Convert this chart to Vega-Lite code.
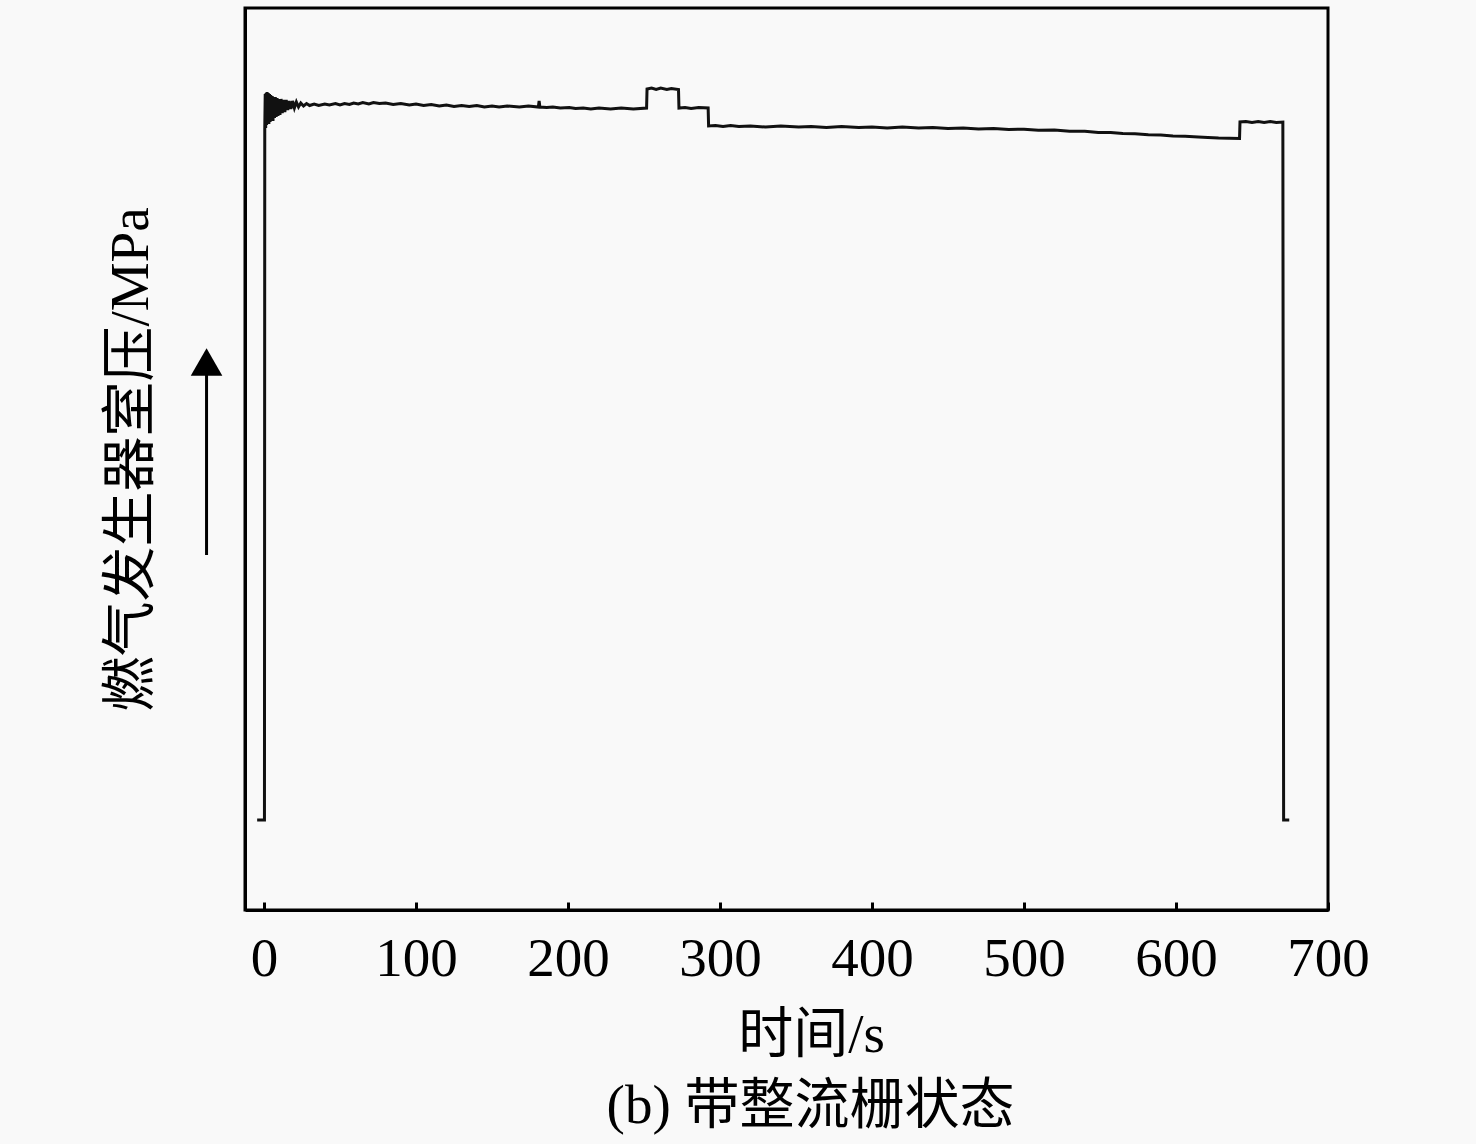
{
  "$schema": "https://vega.github.io/schema/vega-lite/v6.json",
  "width": 1083,
  "height": 902,
  "autosize": {"type": "none"},
  "padding": {"left": 245, "top": 8, "right": 148, "bottom": 234},
  "background": "#f9f9f9",
  "config": {
    "view": {"stroke": "#000000", "strokeWidth": 3},
    "font": "Liberation Serif, Noto Sans CJK SC"
  },
  "title": {
    "text": "(b) 带整流栅状态",
    "orient": "bottom",
    "anchor": "middle",
    "font": "Liberation Serif, Noto Sans CJK SC",
    "fontSize": 55,
    "fontWeight": "normal",
    "color": "#000000",
    "offset": 18,
    "dx": 24
  },
  "layer": [
    {
      "data": {
        "values": [
          {"t": -4.5, "p": 0.0},
          {"t": 0.3, "p": 0.0},
          {"t": 0.5, "p": 6.9},
          {"t": 0.8, "p": 7.26},
          {"t": 1.1, "p": 6.92},
          {"t": 1.4, "p": 7.27},
          {"t": 1.7, "p": 6.95},
          {"t": 2.0, "p": 7.28},
          {"t": 2.4, "p": 6.97},
          {"t": 2.8, "p": 7.27},
          {"t": 3.2, "p": 6.96},
          {"t": 3.6, "p": 7.26},
          {"t": 4.0, "p": 6.98},
          {"t": 4.4, "p": 7.25},
          {"t": 4.9, "p": 7.0},
          {"t": 5.4, "p": 7.24},
          {"t": 5.9, "p": 6.99},
          {"t": 6.4, "p": 7.23},
          {"t": 6.9, "p": 7.02},
          {"t": 7.4, "p": 7.23},
          {"t": 8.0, "p": 7.03},
          {"t": 8.6, "p": 7.22},
          {"t": 9.2, "p": 7.04},
          {"t": 9.8, "p": 7.21},
          {"t": 10.5, "p": 7.05},
          {"t": 11.2, "p": 7.21},
          {"t": 12.0, "p": 7.07},
          {"t": 12.8, "p": 7.2},
          {"t": 13.7, "p": 7.08},
          {"t": 14.6, "p": 7.2},
          {"t": 15.6, "p": 7.1},
          {"t": 16.6, "p": 7.19},
          {"t": 17.7, "p": 7.11},
          {"t": 18.8, "p": 7.19},
          {"t": 20.0, "p": 7.12},
          {"t": 21.3, "p": 7.18},
          {"t": 22.7, "p": 7.13},
          {"t": 24.2, "p": 7.17},
          {"t": 26.0, "p": 7.14},
          {"t": 28.0, "p": 7.165},
          {"t": 30.0, "p": 7.145},
          {"t": 33.0, "p": 7.16},
          {"t": 36.0, "p": 7.145},
          {"t": 40.0, "p": 7.16},
          {"t": 43.0, "p": 7.15},
          {"t": 47.0, "p": 7.165},
          {"t": 50.0, "p": 7.15},
          {"t": 53.0, "p": 7.165},
          {"t": 56.2, "p": 7.155},
          {"t": 59.0, "p": 7.17},
          {"t": 62.0, "p": 7.16},
          {"t": 65.0, "p": 7.175},
          {"t": 69.0, "p": 7.16},
          {"t": 72.0, "p": 7.175},
          {"t": 75.9, "p": 7.165},
          {"t": 80.0, "p": 7.17},
          {"t": 85.0, "p": 7.155},
          {"t": 90.0, "p": 7.165},
          {"t": 95.6, "p": 7.15},
          {"t": 100.0, "p": 7.16},
          {"t": 105.0, "p": 7.145},
          {"t": 110.0, "p": 7.155},
          {"t": 115.3, "p": 7.14},
          {"t": 120.0, "p": 7.15},
          {"t": 125.0, "p": 7.135},
          {"t": 130.0, "p": 7.145},
          {"t": 135.0, "p": 7.135},
          {"t": 140.0, "p": 7.145},
          {"t": 145.0, "p": 7.13},
          {"t": 150.0, "p": 7.14},
          {"t": 154.7, "p": 7.13},
          {"t": 160.0, "p": 7.14},
          {"t": 168.0, "p": 7.13},
          {"t": 174.0, "p": 7.14},
          {"t": 180.5, "p": 7.13},
          {"t": 181.0, "p": 7.19},
          {"t": 181.5, "p": 7.13},
          {"t": 186.0, "p": 7.125},
          {"t": 190.0, "p": 7.13},
          {"t": 195.0, "p": 7.12},
          {"t": 200.8, "p": 7.125},
          {"t": 205.0, "p": 7.115},
          {"t": 210.0, "p": 7.12},
          {"t": 215.0, "p": 7.11},
          {"t": 220.4, "p": 7.12},
          {"t": 228.0, "p": 7.11},
          {"t": 235.0, "p": 7.12},
          {"t": 243.0, "p": 7.11},
          {"t": 251.7, "p": 7.12},
          {"t": 252.0, "p": 7.31},
          {"t": 255.0, "p": 7.32},
          {"t": 258.0, "p": 7.305},
          {"t": 261.0, "p": 7.32},
          {"t": 265.0, "p": 7.305},
          {"t": 268.0, "p": 7.315},
          {"t": 272.7, "p": 7.305},
          {"t": 273.0, "p": 7.12},
          {"t": 277.0, "p": 7.125},
          {"t": 281.0, "p": 7.115},
          {"t": 286.0, "p": 7.125},
          {"t": 292.2, "p": 7.12},
          {"t": 292.5, "p": 6.94},
          {"t": 297.0, "p": 6.945},
          {"t": 302.0, "p": 6.935},
          {"t": 307.0, "p": 6.945},
          {"t": 312.4, "p": 6.935},
          {"t": 320.0, "p": 6.94},
          {"t": 330.0, "p": 6.93},
          {"t": 340.0, "p": 6.94},
          {"t": 351.8, "p": 6.93},
          {"t": 360.0, "p": 6.935},
          {"t": 370.0, "p": 6.925},
          {"t": 380.0, "p": 6.935},
          {"t": 391.3, "p": 6.925},
          {"t": 400.0, "p": 6.93},
          {"t": 410.0, "p": 6.92},
          {"t": 420.0, "p": 6.93},
          {"t": 430.7, "p": 6.92},
          {"t": 440.0, "p": 6.925},
          {"t": 450.0, "p": 6.915},
          {"t": 460.0, "p": 6.92},
          {"t": 470.1, "p": 6.91},
          {"t": 480.0, "p": 6.915},
          {"t": 490.0, "p": 6.905},
          {"t": 500.0, "p": 6.908},
          {"t": 509.5, "p": 6.898},
          {"t": 520.0, "p": 6.9},
          {"t": 530.0, "p": 6.888},
          {"t": 540.0, "p": 6.888},
          {"t": 548.9, "p": 6.876},
          {"t": 557.0, "p": 6.874},
          {"t": 565.0, "p": 6.864},
          {"t": 573.0, "p": 6.862},
          {"t": 581.8, "p": 6.852},
          {"t": 590.0, "p": 6.85},
          {"t": 598.0, "p": 6.84},
          {"t": 606.0, "p": 6.838},
          {"t": 614.6, "p": 6.83},
          {"t": 621.0, "p": 6.826},
          {"t": 628.0, "p": 6.82},
          {"t": 635.0, "p": 6.818},
          {"t": 641.8, "p": 6.815},
          {"t": 642.1, "p": 6.98},
          {"t": 646.0, "p": 6.985},
          {"t": 650.0, "p": 6.975},
          {"t": 654.1, "p": 6.985},
          {"t": 658.0, "p": 6.975},
          {"t": 662.0, "p": 6.985},
          {"t": 666.0, "p": 6.975},
          {"t": 670.3, "p": 6.98},
          {"t": 670.8, "p": 0.0},
          {"t": 674.5, "p": 0.0}
        ]
      },
      "mark": {"type": "line", "color": "#111111", "strokeWidth": 3, "interpolate": "linear"},
      "encoding": {
        "x": {
          "field": "t",
          "type": "quantitative",
          "scale": {"domain": [-12.5, 700], "nice": false, "zero": false},
          "axis": {
            "values": [0, 100, 200, 300, 400, 500, 600, 700],
            "title": "时间/s",
            "titleX": 566,
            "grid": false,
            "domainColor": "#000000",
            "domainWidth": 3,
            "tickColor": "#000000",
            "tickWidth": 3,
            "tickSize": -8,
            "labelFont": "Liberation Serif",
            "labelFontSize": 55,
            "labelColor": "#000000",
            "labelPadding": 30,
            "labelFlush": false,
            "titleFont": "Liberation Serif, Noto Sans CJK SC",
            "titleFontSize": 55,
            "titleFontWeight": "normal",
            "titleColor": "#000000",
            "titlePadding": 22
          }
        },
        "y": {
          "field": "p",
          "type": "quantitative",
          "scale": {"domain": [-0.9, 8.12], "nice": false, "zero": false},
          "axis": {
            "title": "燃气发生器室压/MPa",
            "grid": false,
            "ticks": false,
            "labels": false,
            "domainColor": "#000000",
            "domainWidth": 3,
            "titleFont": "Liberation Serif, Noto Sans CJK SC",
            "titleFontSize": 55,
            "titleFontWeight": "normal",
            "titleColor": "#000000",
            "titlePadding": 86
          }
        }
      }
    },
    {
      "data": {"values": [{"ax": -37.8, "a1": 2.65, "a2": 4.45}]},
      "mark": {"type": "rule", "color": "#000000", "strokeWidth": 3, "clip": false},
      "encoding": {
        "x": {"field": "ax", "type": "quantitative"},
        "y": {"field": "a1", "type": "quantitative"},
        "y2": {"field": "a2"}
      }
    },
    {
      "data": {"values": [{"ax": -37.8, "a": 4.58}]},
      "mark": {"type": "point", "shape": "triangle-up", "filled": true, "color": "#000000", "size": 1000, "opacity": 1, "clip": false},
      "encoding": {
        "x": {"field": "ax", "type": "quantitative"},
        "y": {"field": "a", "type": "quantitative"}
      }
    }
  ]
}
